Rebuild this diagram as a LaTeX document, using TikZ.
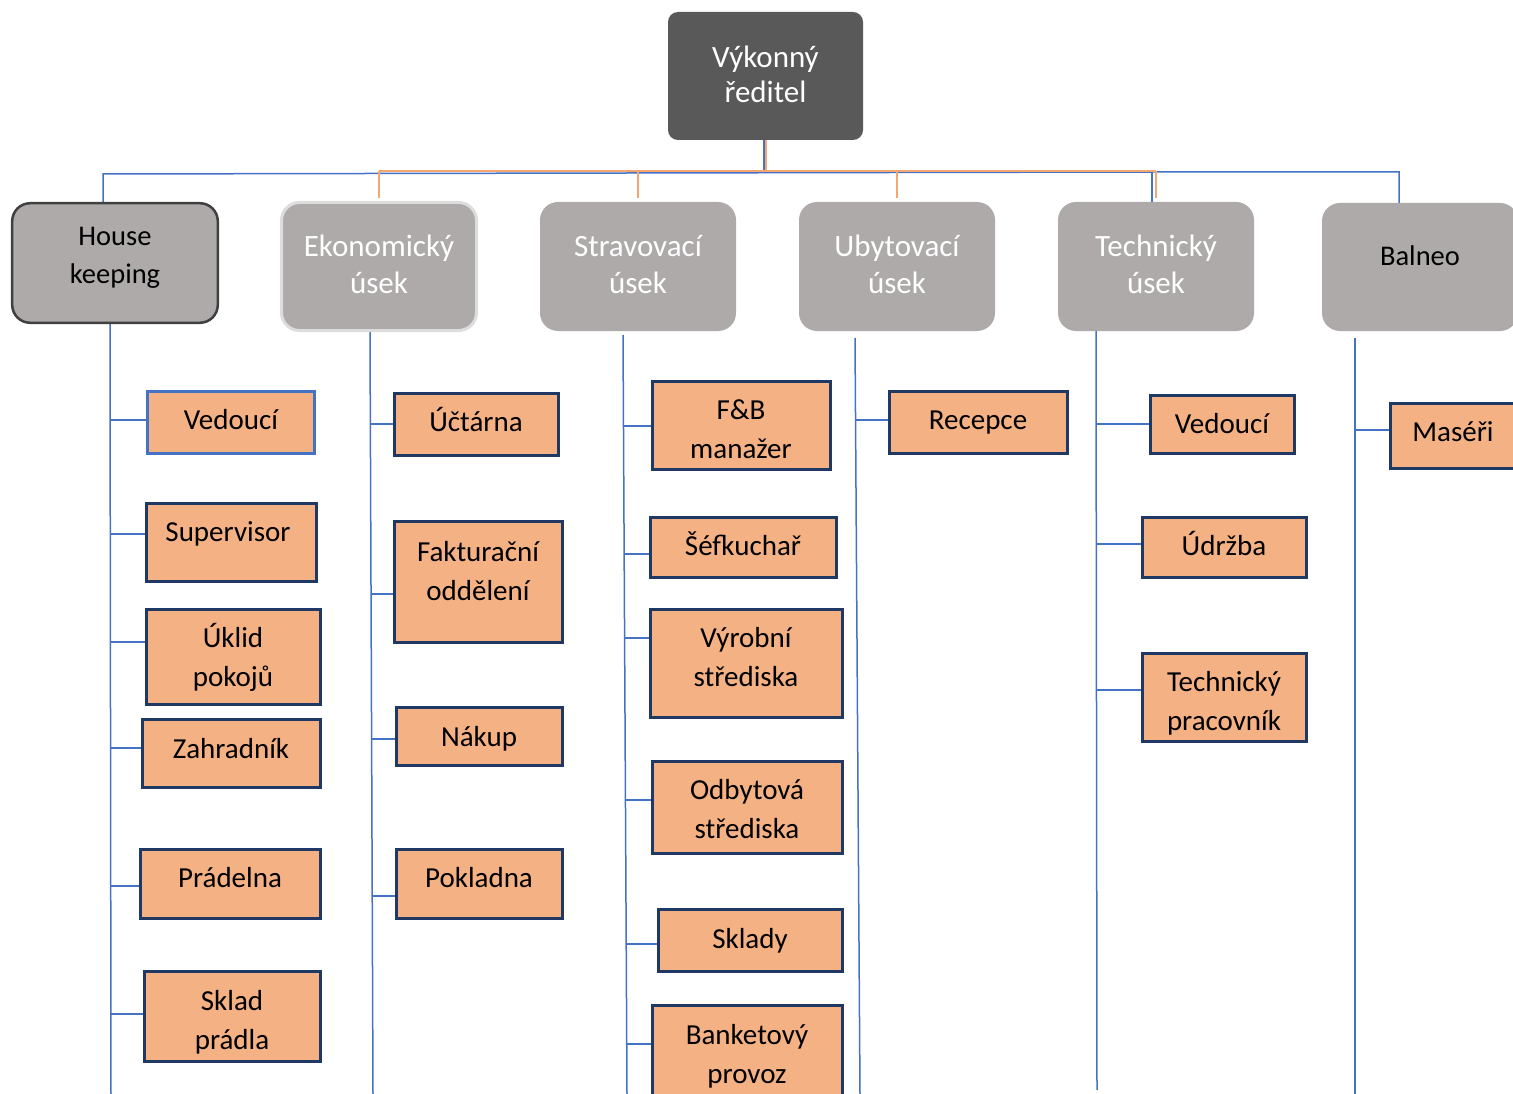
\documentclass[tikz,border=0pt]{standalone}
\usepackage{fontspec}
\setmainfont{Carlito}
\usetikzlibrary{backgrounds}
\definecolor{topgray}{HTML}{595959}
\definecolor{boxgray}{HTML}{AEAAAA}
\definecolor{hkborder}{HTML}{404040}
\definecolor{ekborder}{HTML}{DDDDDD}
\definecolor{leaffill}{HTML}{F4B183}
\definecolor{leafborder}{HTML}{203864}
\definecolor{lineblue}{HTML}{4472C4}
\definecolor{lineorange}{HTML}{F4A772}
\tikzset{
  leaf/.style={rectangle, draw=leafborder, line width=2.6pt, fill=leaffill, inner sep=0pt},
  leaftext/.style={inner sep=0pt, align=center, text=black, font=\fontsize{29}{39}\selectfont, text height=20pt, text depth=7pt},
  dept/.style={rectangle, fill=boxgray, rounded corners=18pt, inner sep=0pt},
  depttextw/.style={inner sep=0pt, align=center, text=white, font=\fontsize{31}{36}\selectfont, text height=21pt, text depth=8pt},
  depttextk/.style={inner sep=0pt, align=center, text=black, font=\fontsize{28.5}{38}\selectfont, text height=20pt, text depth=7pt},
  conn/.style={draw=lineblue, line width=1.5pt},
  oconn/.style={draw=lineorange, line width=2.2pt},
}
% #1 options, #2 name, #3 x1, #4 y1, #5 x2, #6 y2, #7 text x, #8 text y, #9 text
\newcommand\leafbox[9][]{%
  \node[leaf,#1,minimum width={(#5-#3-2.6)*1pt}, minimum height={(#6-#4-2.6)*1pt}] (#2) at ({(#3+#5)/2},{(#4+#6)/2}) {};
  \node[leaftext] (#2-t) at (#7,#8) {#9};}
% #1 options, #2 name, #3 x1, #4 y1, #5 x2, #6 y2, #7 text style, #8 text y, #9 text
\newcommand\deptbox[9][]{%
  \node[dept,#1,minimum width={(#5-#3)*1pt}, minimum height={(#6-#4)*1pt}] (#2) at ({(#3+#5)/2},{(#4+#6)/2}) {};
  \node[#7] (#2-t) at ({(#3+#5)/2},#8) {#9};}
\newcommand\branch[3]{%
  \draw[conn] (#1,#2) -- (perpendicular cs: horizontal line through={(#1,#2)}, vertical line through={(#3.west)});}
\begin{document}
\begin{tikzpicture}[x=1pt,y=-1pt]
\useasboundingbox (0,0) rectangle (1513,1094);
\clip (0,0) rectangle (1513,1094);

% top
\node[rectangle, fill=topgray, rounded corners=10pt, inner sep=0pt, minimum width=195pt, minimum height=128pt] (ceo) at (765.5,76) {};
\node[inner sep=0pt, align=center, text=white, font=\fontsize{31}{35}\selectfont, text height=21pt, text depth=8pt] (ceo-t) at (765.5,96.5) {Výkonný\\ředitel};

% departments
\deptbox[draw=hkborder, line width=2.5pt]{hk}{12.2}{203.2}{217.8}{322.8}{depttextk}{277}{House\\keeping}
\deptbox[draw=ekborder, line width=3pt]{ek}{281.5}{202.5}{476.5}{330.5}{depttextw}{286.5}{Ekonomický\\úsek}
\deptbox{st}{540}{202}{736}{331}{depttextw}{286.5}{Stravovací\\úsek}
\deptbox{ub}{799}{202}{995}{331}{depttextw}{286.5}{Ubytovací\\úsek}
\deptbox{te}{1058}{202}{1254}{331}{depttextw}{286.5}{Technický\\úsek}
\deptbox{ba}{1322}{203}{1518}{331}{depttextk}{259}{Balneo}

% leaves: House keeping
\leafbox[draw=lineblue]{hk1}{146}{390}{316}{455}{231}{423}{Vedoucí}
\leafbox{hk2}{145}{502}{318}{583}{228}{535}{Supervisor}
\leafbox{hk3}{145}{608}{322}{706}{233}{679.5}{Úklid\\pokojů}
\leafbox{hk4}{141}{718}{322}{789}{231}{752}{Zahradník}
\leafbox{hk5}{139}{848}{322}{920}{230}{881}{Prádelna}
\leafbox{hk6}{143}{970}{322}{1063}{232}{1042.5}{Sklad\\prádla}
% Ekonomický
\leafbox{ek1}{393}{392}{560}{457}{476}{425}{Účtárna}
\leafbox{ek2}{393}{520}{564}{644}{478}{593.5}{Fakturační\\oddělení}
\leafbox{ek3}{395}{706}{564}{767}{479}{740}{Nákup}
\leafbox{ek4}{395}{848}{564}{920}{479}{881}{Pokladna}
% Stravovací
\leafbox{st1}{651}{380}{832}{471}{741}{451.5}{F\&B\\manažer}
\leafbox{st2}{649}{516}{838}{579}{743}{549}{Šéfkuchař}
\leafbox{st3}{649}{608}{844}{719}{746}{679.5}{Výrobní\\střediska}
\leafbox{st4}{651}{760}{844}{855}{747}{831.5}{Odbytová\\střediska}
\leafbox{st5}{657}{908}{844}{973}{750}{942}{Sklady}
\leafbox{st6}{651}{1004}{844}{1112}{747}{1076.5}{Banketový\\provoz}
% Ubytovací
\leafbox{ub1}{888}{390}{1069}{455}{978}{423}{Recepce}
% Technický
\leafbox{te1}{1149}{394}{1296}{455}{1222}{427}{Vedoucí}
\leafbox{te2}{1141}{516}{1308}{579}{1224}{549}{Údržba}
\leafbox{te3}{1141}{652}{1308}{743}{1224}{723.5}{Technický\\pracovník}
% Balneo
\leafbox{ba1}{1389}{402}{1522}{470}{1453}{435}{Maséři}

\begin{scope}[on background layer]
  % top connectors: blue
  \coordinate (bh) at (764,173);
  \coordinate (bhk) at (103,174);
  \coordinate (bte) at (1152,172);
  \coordinate (bba) at (1399,172);
  \draw[conn] (bh |- ceo.south) -- (bh);
  \draw[conn] (bhk |- hk.north) -- (bhk) -- (bte) -- (bba) -- (bba |- ba.north);
  \draw[conn] (bte) -- (bte |- te.north);
  % top connectors: orange
  \coordinate (oh) at (766,171);
  \draw[oconn] (oh |- ceo.south) -- (oh);
  \draw[oconn] (ek.north |- oh) -- (te.north |- oh);
  \draw[oconn] (ek.north |- oh) -- ([yshift=3pt]ek.north);
  \draw[oconn] (st.north |- oh) -- ([yshift=4pt]st.north);
  \draw[oconn] (ub.north |- oh) -- ([yshift=4pt]ub.north);
  \draw[oconn] (te.north |- oh) -- ([yshift=4pt]te.north);
  % spines
  \coordinate (hks1) at (110,324); \coordinate (hks2) at (111,1094);
  \coordinate (eks1) at (370,332); \coordinate (eks2) at (373,1094);
  \coordinate (sts1) at (623,335); \coordinate (sts2) at (627,1094);
  \coordinate (ubs1) at (855,338); \coordinate (ubs2) at (860,1094);
  \coordinate (tes1) at (1096,331); \coordinate (tes2) at (1097,1090);
  \coordinate (bas1) at (1355,338); \coordinate (bas2) at (1355,1094);
  \draw[conn] (hks1) -- (hks2);
  \draw[conn] (eks1) -- (eks2);
  \draw[conn] (sts1) -- (sts2);
  \draw[conn] (ubs1) -- (ubs2);
  \draw[conn] (tes1) -- (tes2);
  \draw[conn] (bas1) -- (bas2);
  % branches
  \branch{111}{420}{hk1}
  \branch{111}{534}{hk2}
  \branch{111}{642}{hk3}
  \branch{111}{748}{hk4}
  \branch{111}{886}{hk5}
  \branch{111}{1014}{hk6}
  \branch{371}{424}{ek1}
  \branch{372}{594}{ek2}
  \branch{372}{739}{ek3}
  \branch{373}{896}{ek4}
  \branch{624}{426}{st1}
  \branch{624}{554}{st2}
  \branch{625}{638}{st3}
  \branch{625}{800}{st4}
  \branch{626}{944}{st5}
  \branch{626}{1044}{st6}
  \branch{856}{420}{ub1}
  \branch{1096}{424}{te1}
  \branch{1096}{544}{te2}
  \branch{1096}{690}{te3}
  \branch{1355}{430}{ba1}
\end{scope}
\end{tikzpicture}
\end{document}
